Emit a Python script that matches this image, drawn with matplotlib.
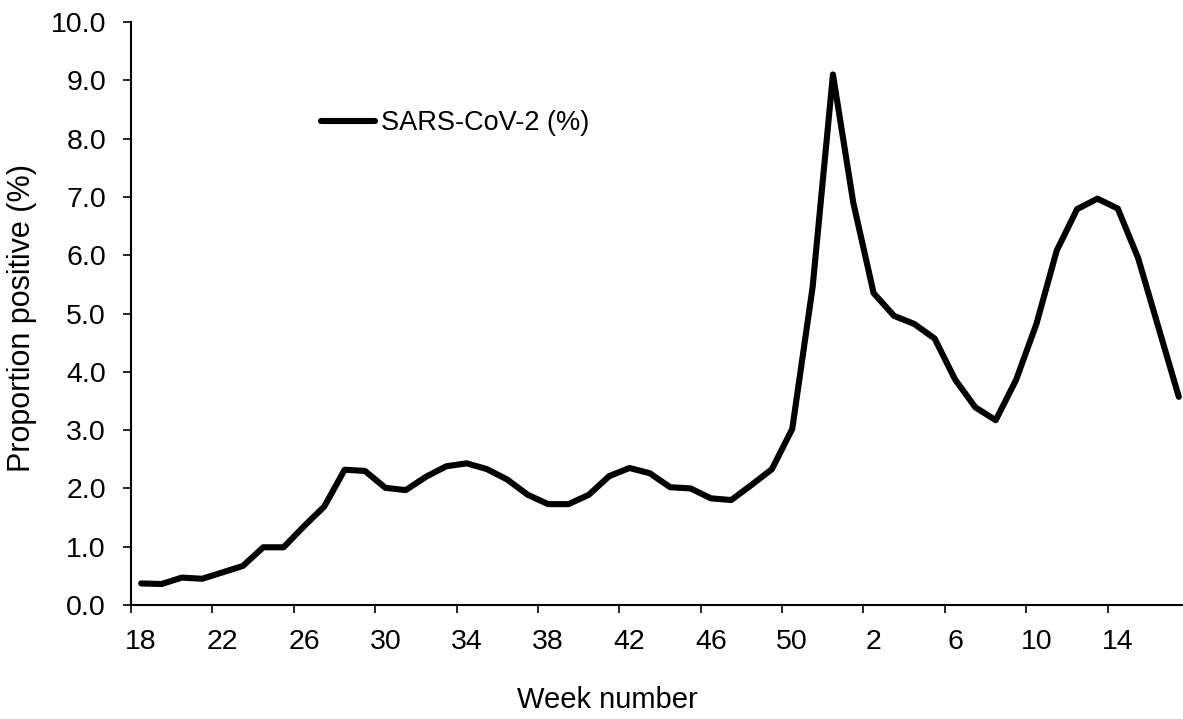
import matplotlib
matplotlib.use("Agg")
import matplotlib.pyplot as plt
import numpy as np
from matplotlib.ticker import FixedLocator, FuncFormatter

weeks = list(range(18, 53)) + list(range(1, 18))
values = [0.37, 0.36, 0.47, 0.45, 0.56, 0.67, 0.99, 0.99, 1.35, 1.69,
          2.32, 2.30, 2.01, 1.97, 2.20, 2.38, 2.43, 2.33, 2.15, 1.89,
          1.73, 1.73, 1.89, 2.21, 2.35, 2.26, 2.02, 2.00, 1.83, 1.80,
          2.06, 2.33, 3.02, 5.45, 9.10,
          6.90, 5.35, 4.96, 4.82, 4.57, 3.87, 3.39, 3.17, 3.86, 4.82,
          6.08, 6.79, 6.97, 6.80, 5.95, 4.76, 3.57]
series_name = "SARS-CoV-2 (%)"
y_ticks = [0, 1, 2, 3, 4, 5, 6, 7, 8, 9, 10]

plt.rcParams['font.family'] = ['Liberation Sans', 'DejaVu Sans']

W, H = 1183, 719
fig = plt.figure(figsize=(W / 100, H / 100), dpi=100)
left, right, bottom, top = 131, 1189, 605, 22
ax = fig.add_axes([left / W, 1 - bottom / H, (right - left) / W, (bottom - top) / H])

x = np.arange(len(weeks))
line, = ax.plot(x, values, color='black', lw=4.4, solid_capstyle='round',
                solid_joinstyle='round', label=series_name, clip_on=False)

ax.set_xlim(-0.5, len(weeks) - 0.5)
ax.set_ylim(0, 10)

for s in ['top', 'right']:
    ax.spines[s].set_visible(False)
for s in ['left', 'bottom']:
    ax.spines[s].set_linewidth(1.5)
    ax.spines[s].set_color('black')

ax.set_yticks(y_ticks)
ax.yaxis.set_major_formatter(FuncFormatter(lambda v, p: f"{v:.1f}"))
ax.tick_params(axis='y', direction='out', length=6, width=1.2, pad=12, labelsize=20.5)

label_idx = list(range(0, len(weeks), 4))
ax.set_xticks(label_idx)
ax.set_xticklabels([str(weeks[i]) for i in label_idx])
ax.tick_params(axis='x', which='major', length=0, pad=17, labelsize=20.5)
ax.xaxis.set_minor_locator(FixedLocator([i - 0.5 for i in label_idx]))
ax.tick_params(axis='x', which='minor', direction='out', length=6, width=1.2)

fig.text(607 / W, 1 - 700 / H, "Week number", ha='center', va='center', fontsize=21)
fig.text(22 / W, 1 - 318 / H, "Proportion positive (%)", ha='center', va='center',
         rotation=90, fontsize=22)

ax.legend(handles=[line], loc='center left', bbox_to_anchor=(321 / W, 1 - 123 / H),
          bbox_transform=fig.transFigure, frameon=False, fontsize=19.5,
          handlelength=2.0, handletextpad=0.2, borderpad=0, borderaxespad=0)

fig.savefig("out.png", dpi=100)
